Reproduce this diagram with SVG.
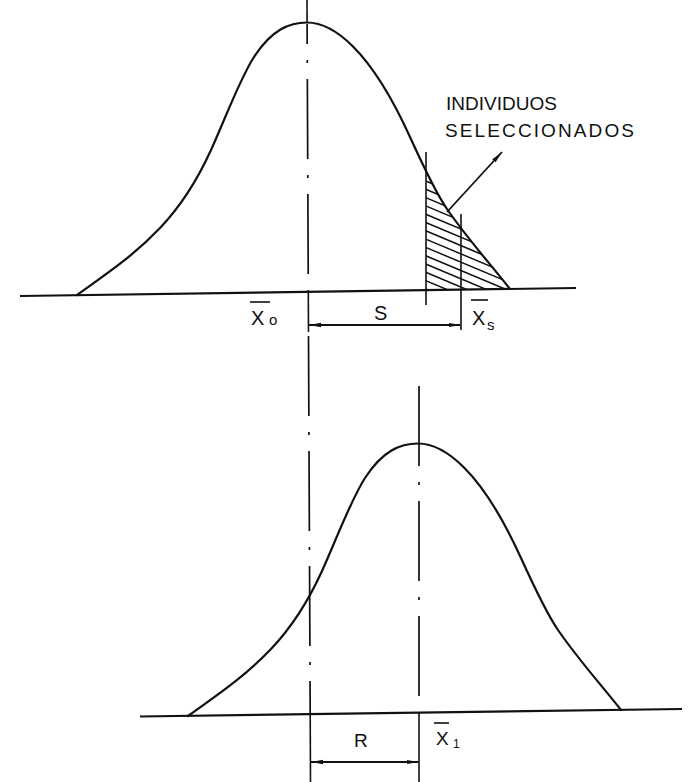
<svg xmlns="http://www.w3.org/2000/svg" width="691" height="782" viewBox="0 0 691 782">
<style>
.curve{fill:none;stroke:#111;stroke-width:2.2;stroke-linejoin:round;stroke-linecap:round}
.base{fill:none;stroke:#111;stroke-width:2.2}
.thin{fill:none;stroke:#111;stroke-width:1.6}
.center{fill:none;stroke:#111;stroke-width:1.7;stroke-dasharray:80 16 3 16}
.hatch{fill:none;stroke:#111;stroke-width:1.5}
.dim{fill:none;stroke:#111;stroke-width:1.8}
text{font-family:"Liberation Sans",Arial,sans-serif;fill:#111}
.lbl{font-size:19px}
.sym{font-size:20px}
.sub{font-size:15px}
</style>
<defs>
<path id="bell" d="M77,295 C104.67,275.08 132.33,257.05 160,228 C177,210.15 194,187.4 211,150 C225.33,118.47 239.67,79.22 254,57 C271.67,29.62 289.33,22.5 307,22.5 C322.33,22.5 337.67,31.17 353,46.5 C372,65.5 391,95.2 410,137 C422.33,164.13 434.67,191.12 447,209 C468,239.45 489,262.33 510,289"/>
<clipPath id="underCurve"><path d="M77,295 C104.67,275.08 132.33,257.05 160,228 C177,210.15 194,187.4 211,150 C225.33,118.47 239.67,79.22 254,57 C271.67,29.62 289.33,22.5 307,22.5 C322.33,22.5 337.67,31.17 353,46.5 C372,65.5 391,95.2 410,137 C422.33,164.13 434.67,191.12 447,209 C468,239.45 489,262.33 510,289 L77,295 Z"/></clipPath>
<clipPath id="rightOfCut"><rect x="426" y="140" width="110" height="160"/></clipPath>
<marker id="ah" viewBox="0 0 12 6" refX="12" refY="3" markerWidth="12" markerHeight="6" markerUnits="userSpaceOnUse" orient="auto-start-reverse"><path d="M0,0.8 L12,3 L0,5.2 Z" fill="#111"/></marker>
</defs>

<g id="curve-top">
<use href="#bell" class="curve"/>
<line class="base" x1="20" y1="296" x2="576" y2="288"/>
</g>

<g id="selected-area" clip-path="url(#rightOfCut)">
<g clip-path="url(#underCurve)">
<path class="hatch" d="M420,162 l100,42 M420,170.3 l100,42 M420,178.6 l100,42 M420,186.9 l100,42 M420,195.2 l100,42 M420,203.5 l100,42 M420,211.8 l100,42 M420,220.1 l100,42 M420,228.4 l100,42 M420,236.7 l100,42 M420,245 l100,42 M420,253.3 l100,42 M420,261.6 l100,42 M420,269.9 l100,42 M420,278.2 l100,42 M420,286.5 l100,42 M420,294.8 l100,42"/>
</g>
</g>

<g id="curve-bottom">
<use href="#bell" class="curve" transform="translate(111,421)"/>
<line class="base" x1="140" y1="716.5" x2="682" y2="709"/>
</g>

<g id="connectors">
<!-- centre line of parent population -->
<line class="thin" x1="307" y1="0" x2="307.1" y2="22.5"/>
<line class="center" x1="307.1" y1="24" x2="308.3" y2="292" stroke-dashoffset="60"/>
<line class="thin" x1="308.3" y1="292" x2="308.5" y2="332"/>
<line class="center" x1="308.5" y1="336" x2="310.2" y2="714"/>
<line class="thin" x1="310.2" y1="714" x2="310.5" y2="782"/>
<!-- centre line of offspring -->
<line class="center" x1="419" y1="386" x2="419" y2="712"/>
<line class="thin" x1="419" y1="712" x2="419" y2="782"/>
<!-- truncation and selected mean lines -->
<line class="thin" x1="426" y1="152" x2="426" y2="305"/>
<line class="thin" x1="461" y1="214" x2="461" y2="330"/>
<!-- dimension S -->
<line class="dim" x1="309" y1="325" x2="460.5" y2="325" marker-start="url(#ah)" marker-end="url(#ah)"/>
<!-- dimension R -->
<line class="dim" x1="311" y1="762" x2="418.5" y2="762" marker-start="url(#ah)" marker-end="url(#ah)"/>
<!-- pointer to selected individuals -->
<line class="dim" x1="447" y1="212" x2="502" y2="152" marker-end="url(#ah)"/>
</g>

<g id="labels">
<text class="lbl" x="446" y="110" textLength="111" lengthAdjust="spacing">INDIVIDUOS</text>
<text class="lbl" x="445" y="137" textLength="189" lengthAdjust="spacing">SELECCIONADOS</text>
<g id="label-x0">
<line class="thin" x1="250" y1="302" x2="270" y2="302"/>
<text class="sym" x="251" y="325">X</text><text class="sub" x="269" y="325">o</text>
</g>
<text class="sym" x="374" y="320">S</text>
<g id="label-xs">
<line class="thin" x1="471" y1="300" x2="488" y2="300"/>
<text class="sym" x="472" y="325">X</text><text class="sub" x="487" y="330">s</text>
</g>
<text class="lbl" x="354" y="747">R</text>
<g id="label-x1">
<line class="thin" x1="434" y1="723" x2="449" y2="723"/>
<text class="lbl" x="436" y="745">X</text><text style="font-size:12px" x="453" y="748">1</text>
</g>
</g>
</svg>
